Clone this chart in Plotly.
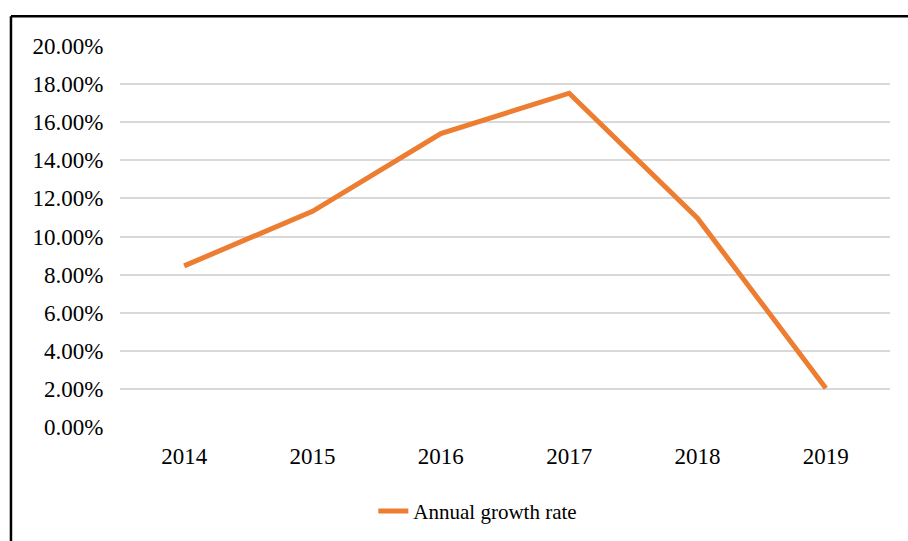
import plotly.graph_objects as go

years = ["2014", "2015", "2016", "2017", "2018", "2019"]
growth_rate = [0.0846, 0.1132, 0.1540, 0.1752, 0.1096, 0.0203]
y_ticks = [0.00, 0.02, 0.04, 0.06, 0.08, 0.10, 0.12, 0.14, 0.16, 0.18, 0.20]

ORANGE = "#ED7D31"
FONT = '"Liberation Serif", "Times New Roman", serif'

fig = go.Figure()
fig.add_trace(go.Scatter(
    x=years,
    y=growth_rate,
    mode="lines",
    name="Annual growth rate",
    line=dict(color=ORANGE, width=5),
))

fig.update_layout(
    width=908,
    height=541,
    margin=dict(l=120, r=18, t=46, b=114, autoexpand=False),
    paper_bgcolor="white",
    plot_bgcolor="white",
    font=dict(family=FONT, color="black", size=23),
    showlegend=True,
    legend=dict(
        orientation="h",
        x=0.329,
        xanchor="left",
        yref="container",
        y=0.055,
        yanchor="middle",
        font=dict(family=FONT, size=21, color="black"),
        bgcolor="rgba(0,0,0,0)",
    ),
    xaxis=dict(
        type="category",
        range=[-0.5, 5.5],
        automargin=False,
        showgrid=False,
        zeroline=False,
        showline=False,
        ticks="outside",
        ticklen=8,
        tickcolor="rgba(0,0,0,0)",
        tickfont=dict(family=FONT, size=23, color="black"),
    ),
    yaxis=dict(
        range=[0, 0.2],
        tickvals=y_ticks,
        tickformat=".2%",
        automargin=False,
        showgrid=True,
        gridcolor="#D9D9D9",
        gridwidth=2,
        zeroline=False,
        showline=False,
        ticks="outside",
        ticklen=11,
        tickcolor="rgba(0,0,0,0)",
        tickfont=dict(family=FONT, size=23, color="black"),
    ),
    shapes=[
        # frame around the chart area (left and top edges)
        dict(type="line", xref="paper", yref="paper",
             x0=-0.1416, x1=-0.1416, y0=-0.35, y1=1.078,
             line=dict(color="black", width=2.5)),
        dict(type="line", xref="paper", yref="paper",
             x0=-0.1416, x1=1.05, y0=1.078, y1=1.078,
             line=dict(color="black", width=2.5)),
    ],
)

fig.write_html("out.html")
